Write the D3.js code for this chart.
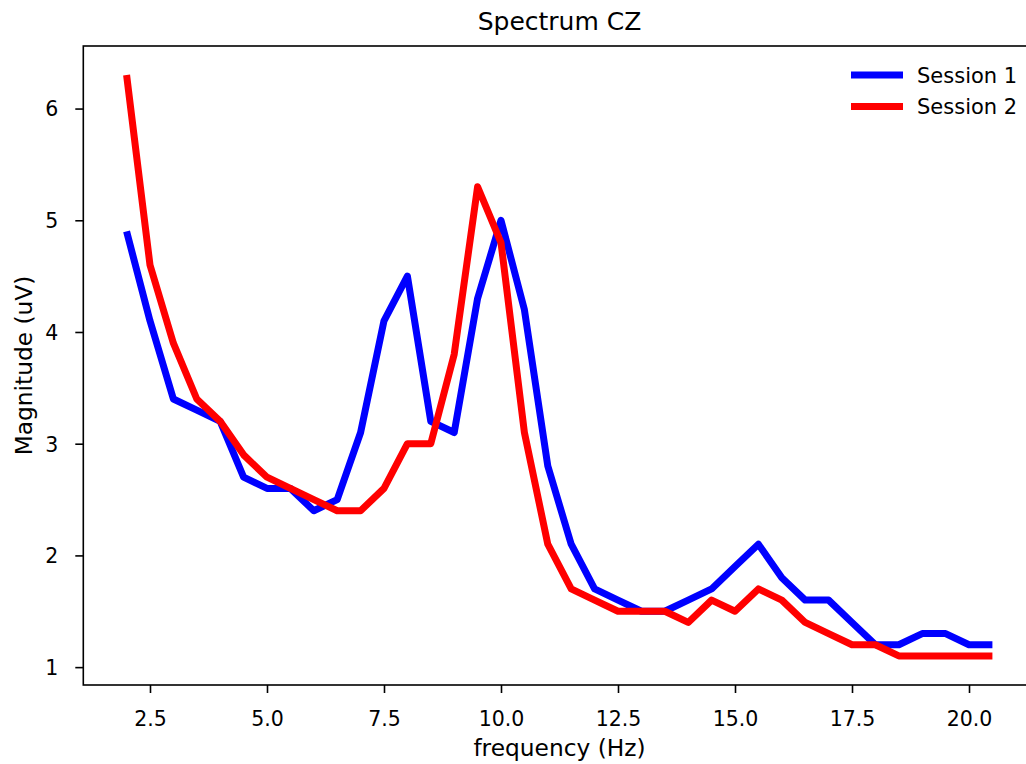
<!DOCTYPE html>
<html>
<head>
<meta charset="utf-8">
<script src="https://cdn.jsdelivr.net/npm/d3@7"></script>
<style>
  body { margin: 0; background: #fff; }
  text { font-family: "DejaVu Sans", sans-serif; fill: #000; }
</style>
</head>
<body>
<svg id="chart" width="1026" height="764"></svg>
<script>
const freqs = [2,2.5,3,3.5,4,4.5,5,5.5,6,6.5,7,7.5,8,8.5,9,9.5,10,10.5,11,11.5,12,12.5,13,13.5,14,14.5,15,15.5,16,16.5,17,17.5,18,18.5,19,19.5,20,20.5];
const session1 = [4.9,4.1,3.4,3.3,3.2,2.7,2.6,2.6,2.4,2.5,3.1,4.1,4.5,3.2,3.1,4.3,5.0,4.2,2.8,2.1,1.7,1.6,1.5,1.5,1.6,1.7,1.9,2.1,1.8,1.6,1.6,1.4,1.2,1.2,1.3,1.3,1.2,1.2];
const session2 = [6.3,4.6,3.9,3.4,3.2,2.9,2.7,2.6,2.5,2.4,2.4,2.6,3.0,3.0,3.8,5.3,4.8,3.1,2.1,1.7,1.6,1.5,1.5,1.5,1.4,1.6,1.5,1.7,1.6,1.4,1.3,1.2,1.2,1.1,1.1,1.1,1.1,1.1];
const seriesNames = ["Session 1", "Session 2"];
const seriesColors = ["#0000ff", "#ff0000"];
const xTicks = [2.5,5.0,7.5,10.0,12.5,15.0,17.5,20.0];
const yTicks = [1,2,3,4,5,6];
const title = "Spectrum CZ";
const xLabel = "frequency (Hz)";
const yLabel = "Magnitude (uV)";

const svg = d3.select("#chart");
const L = 83.3, R = 1035.7, T = 46, B = 685;

const xMin = d3.min(freqs), xMax = d3.max(freqs);
const xPad = (xMax - xMin) * 0.05;
const allY = session1.concat(session2);
const yMin = d3.min(allY), yMax = d3.max(allY);
const yPad = (yMax - yMin) * 0.05;

const x = d3.scaleLinear().domain([xMin - xPad, xMax + xPad]).range([L, R]);
const y = d3.scaleLinear().domain([yMin - yPad, yMax + yPad]).range([B, T]);

const g = svg.append("g");

// lines
const line = d3.line().x((d, i) => x(freqs[i])).y(d => y(d));
[session1, session2].forEach((s, k) => {
  g.append("path")
    .datum(s)
    .attr("fill", "none")
    .attr("stroke", seriesColors[k])
    .attr("stroke-width", 7)
    .attr("stroke-linejoin", "round")
    .attr("stroke-linecap", "butt")
    .attr("d", line);
});

// axes
const xAxis = d3.axisBottom(x).tickValues(xTicks).tickFormat(d3.format(".1f")).tickSize(8).tickPadding(18);
const yAxis = d3.axisLeft(y).tickValues(yTicks).tickFormat(d3.format("d")).tickSize(8).tickPadding(17);

const gx = svg.append("g").attr("transform", `translate(0,${B})`).call(xAxis);
const gy = svg.append("g").attr("transform", `translate(${L},0)`).call(yAxis);
[gx, gy].forEach(a => {
  a.select(".domain").remove();
  a.selectAll(".tick line").attr("stroke", "#000").attr("stroke-width", 1.6);
  a.selectAll(".tick text").style("font-family", "DejaVu Sans").style("font-size", "20.5px").attr("fill", "#000");
});
gx.selectAll(".tick text").attr("dy", "0.71em");
gy.selectAll(".tick text").attr("dy", "0.36em");

// frame
svg.append("rect")
  .attr("x", L).attr("y", T)
  .attr("width", R - L).attr("height", B - T)
  .attr("fill", "none").attr("stroke", "#000").attr("stroke-width", 1.6);

// title & labels
svg.append("text").attr("x", (L + R) / 2).attr("y", 30)
  .attr("text-anchor", "middle").style("font-size", "25px").text(title);
svg.append("text").attr("x", (L + R) / 2).attr("y", 756)
  .attr("text-anchor", "middle").style("font-size", "23.3px").text(xLabel);
svg.append("text").attr("transform", `translate(32,${(T + B) / 2}) rotate(-90)`)
  .attr("text-anchor", "middle").style("font-size", "23.3px").text(yLabel);

// legend
const leg = svg.append("g");
seriesNames.forEach((name, k) => {
  const ly = 75 + k * 31.5;
  leg.append("line").attr("x1", 851).attr("x2", 903).attr("y1", ly).attr("y2", ly)
    .attr("stroke", seriesColors[k]).attr("stroke-width", 7);
  leg.append("text").attr("x", 917).attr("y", ly + 7.5).style("font-size", "21px").text(name);
});
</script>
</body>
</html>
